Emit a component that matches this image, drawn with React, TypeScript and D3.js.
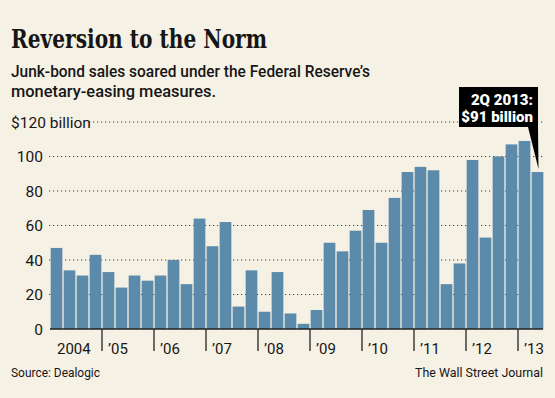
import React, { useEffect, useRef } from 'react';
import * as d3 from 'd3';

// quarterly junk-bond sales, $ billion (2004 Q1 .. 2013 Q2)
const years = ['2004', '2005', '2006', '2007', '2008', '2009', '2010', '2011', '2012', '2013'];
const yearLabels = ['2004', '\u201905', '\u201906', '\u201907', '\u201908', '\u201909', '\u201910', '\u201911', '\u201912', '\u201913'];
const sales = [
  47, 34, 31, 43,
  33, 24, 31, 28,
  31, 40, 26, 64,
  48, 62, 13, 34,
  10, 33, 9, 3,
  11, 50, 45, 57,
  69, 50, 76, 91,
  94, 92, 26, 38,
  98, 53, 100, 107,
  109, 91,
];
const yTicks = [0, 20, 40, 60, 80, 100, 120];

const quarters = sales.map((_, i) => `${years[Math.floor(i / 4)]}Q${(i % 4) + 1}`);

const App = () => {
  const ref = useRef<SVGSVGElement>(null);

  useEffect(() => {
    const svg = d3.select(ref.current);
    svg.selectAll('*').remove();

    const W = 555, H = 398;
    const left = 50, right = 544, bottom = 329, top = 122;
    const sans = 'Roboto, "Liberation Sans", sans-serif';
    const ink = '#161616';

    svg.append('rect').attr('width', W).attr('height', H).attr('fill', '#f6f1e5');

    const x = d3.scaleBand().domain(quarters).range([left, right]).paddingInner(0.1).paddingOuter(0.05);
    const y = d3.scaleLinear().domain([0, 120]).range([bottom, top]);
    const step = x.step();

    // title + subtitle
    svg.append('text').attr('x', 11).attr('y', 48)
      .attr('font-family', '"DejaVu Serif", serif').attr('font-weight', 'bold').attr('font-size', 26)
      .attr('textLength', 256).attr('lengthAdjust', 'spacingAndGlyphs').attr('fill', ink)
      .text('Reversion to the Norm');
    svg.append('text').attr('x', 11).attr('y', 77)
      .attr('font-family', sans).attr('font-weight', 500).attr('font-size', 17).attr('fill', ink)
      .attr('textLength', 359).attr('lengthAdjust', 'spacingAndGlyphs')
      .text('Junk-bond sales soared under the Federal Reserve\u2019s');
    svg.append('text').attr('x', 11).attr('y', 97)
      .attr('font-family', sans).attr('font-weight', 500).attr('font-size', 17).attr('fill', ink)
      .attr('textLength', 205).attr('lengthAdjust', 'spacingAndGlyphs')
      .text('monetary-easing measures.');

    // gridlines + y labels
    yTicks.forEach(t => {
      const isTop = t === 120;
      if (t > 0) {
        svg.append('line')
          .attr('x1', isTop ? 89 : 49).attr('x2', 543)
          .attr('y1', y(t)).attr('y2', y(t))
          .attr('stroke', '#444').attr('stroke-width', 1.2).attr('stroke-dasharray', '1.2 2.8');
      }
      svg.append('text')
        .attr('x', isTop ? 11 : 43).attr('y', y(t) + 5.5)
        .attr('text-anchor', isTop ? 'start' : 'end')
        .attr('font-family', sans).attr('font-size', 15.5).attr('fill', ink)
        .text(isTop ? '$120 billion' : String(t));
    });

    // bars
    svg.append('g').selectAll('rect').data(sales).enter().append('rect')
      .attr('x', (_, i) => x(quarters[i]))
      .attr('y', d => y(d))
      .attr('width', x.bandwidth())
      .attr('height', d => y(0) - y(d))
      .attr('fill', '#5b8aab');

    // baseline
    svg.append('line').attr('x1', left).attr('x2', 543).attr('y1', bottom).attr('y2', bottom)
      .attr('stroke', '#222').attr('stroke-width', 1.6);

    // year ticks + labels
    years.forEach((yr, i) => {
      const x0 = x(`${yr}Q1`) - step * 0.05;
      if (i > 0) {
        svg.append('line').attr('x1', x0).attr('x2', x0).attr('y1', bottom).attr('y2', 351)
          .attr('stroke', '#222').attr('stroke-width', 1.3);
      }
      svg.append('text').attr('x', x0 + (i === 0 ? 7 : 6)).attr('y', 354)
        .attr('font-family', sans).attr('font-size', 15).attr('fill', ink)
        .text(yearLabels[i]);
    });

    // callout pointing at the last bar
    const last = quarters[quarters.length - 1];
    const cx = x(last) + x.bandwidth() / 2;
    const cy = y(sales[sales.length - 1]) - 3;
    svg.append('path')
      .attr('d', `M459,87 H538 V127 L${cx + 1},${cy} L528,127 H459 Z`)
      .attr('fill', '#000');
    svg.append('text').attr('x', 533).attr('y', 105).attr('text-anchor', 'end')
      .attr('font-family', sans).attr('font-weight', 900).attr('font-size', 15).attr('fill', '#fff')
      .text('2Q 2013:');
    svg.append('text').attr('x', 533).attr('y', 122).attr('text-anchor', 'end')
      .attr('font-family', sans).attr('font-weight', 900).attr('font-size', 15).attr('fill', '#fff')
      .text('$91 billion');

    // footer
    svg.append('text').attr('x', 11).attr('y', 377)
      .attr('font-family', sans).attr('font-size', 13).attr('fill', ink)
      .attr('textLength', 89).attr('lengthAdjust', 'spacingAndGlyphs')
      .text('Source: Dealogic');
    svg.append('text').attr('x', 543).attr('y', 377).attr('text-anchor', 'end')
      .attr('font-family', sans).attr('font-size', 13).attr('fill', ink)
      .attr('textLength', 128).attr('lengthAdjust', 'spacingAndGlyphs')
      .text('The Wall Street Journal');
  }, []);

  return (
    <svg ref={ref} width={555} height={398}
      style={{ position: 'absolute', left: 0, top: 0, display: 'block' }} />
  );
};

export default App;
